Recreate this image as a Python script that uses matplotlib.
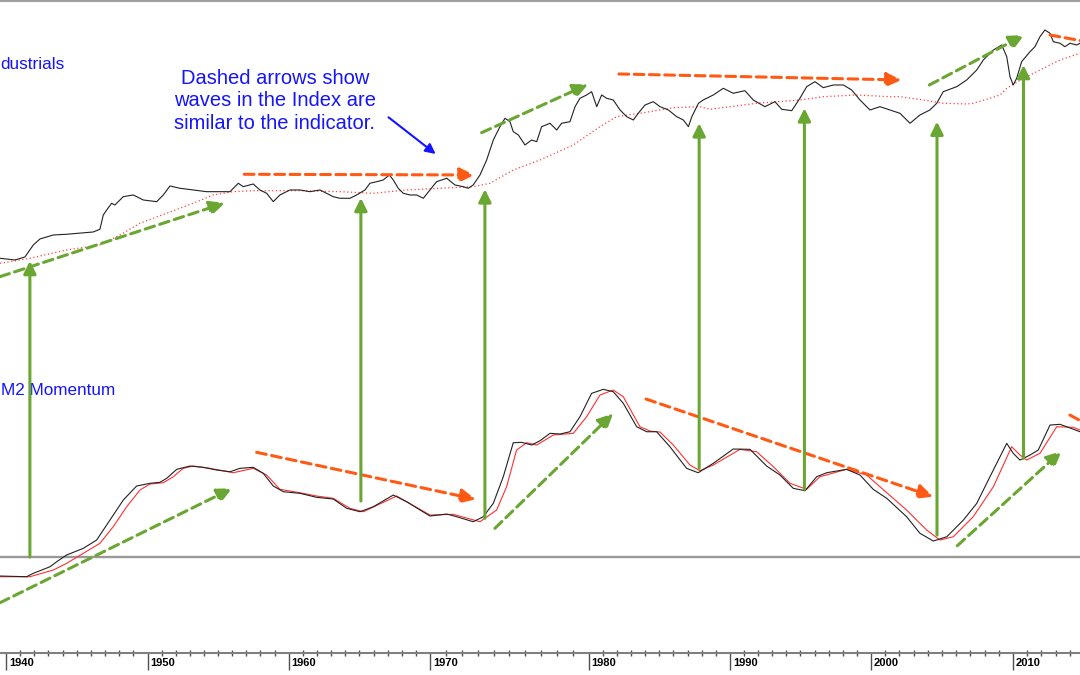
import numpy as np
import matplotlib
matplotlib.use("Agg")
import matplotlib.pyplot as plt
from matplotlib.patches import ConnectionPatch

plt.rcParams['font.family'] = ['Liberation Sans', 'DejaVu Sans']

# ---------------- data ----------------
tick_years = [1940, 1950, 1960, 1970, 1980, 1990, 2000, 2010]
tick_labels = [str(y) for y in tick_years]

dow_years = [1939.58, 1940.64, 1941.34, 1941.93, 1942.40, 1943.34, 1944.28, 1946.16, 1946.63, 1946.87,
             1947.11, 1947.46, 1947.69, 1948.28, 1948.99, 1949.69, 1950.64, 1951.11, 1951.58, 1952.29,
             1953.23, 1954.18, 1955.13, 1955.84, 1956.43, 1956.78, 1957.49, 1957.96, 1958.44, 1958.91,
             1959.38, 1960.09, 1960.80, 1961.50, 1962.21, 1962.68, 1963.15, 1963.62, 1964.33, 1964.80,
             1965.39, 1965.74, 1966.22, 1966.68, 1967.11, 1967.39, 1967.74, 1968.09, 1968.57, 1969.04,
             1969.51, 1969.98, 1970.40, 1971.04, 1971.56, 1972.08, 1972.40, 1972.71, 1973.14, 1973.56,
             1973.98, 1974.40, 1974.72, 1975.03, 1975.24, 1975.56, 1975.98, 1976.40, 1976.72, 1977.03,
             1977.56, 1977.98, 1978.29, 1978.82, 1979.14, 1979.45, 1979.87, 1980.21, 1980.57, 1980.92,
             1981.27, 1981.74, 1982.22, 1982.69, 1983.16, 1983.51, 1983.99, 1984.57, 1985.05, 1985.64,
             1986.23, 1986.70, 1987.06, 1987.30, 1987.77, 1988.11, 1988.82, 1989.53, 1990.23, 1991.06,
             1991.65, 1992.48, 1993.19, 1993.67, 1994.38, 1994.96, 1995.44, 1996.03, 1996.62, 1997.33,
             1998.04, 1998.63, 1999.22, 1999.93, 2000.63, 2001.34, 2002.04, 2002.75, 2003.45, 2004.15,
             2004.63, 2005.09, 2006.04, 2006.74, 2007.45, 2007.91, 2008.62, 2009.21, 2009.56, 2009.79,
             2010.02, 2010.26, 2010.61, 2011.20, 2011.55, 2011.90, 2012.25, 2012.61, 2012.84, 2013.31,
             2013.66, 2014.01, 2014.49, 2014.72]
dow_vals = [41.7, 40, 43, 55, 61, 65, 65.7, 68, 70.7, 85,
            90, 96.7, 95, 103.3, 105, 100, 98.3, 105, 114, 111.7,
            110, 108.3, 108.3, 108.3, 116.7, 113.3, 116, 110, 106.7, 98.3,
            105, 110, 110, 108.3, 110, 106.7, 103.3, 101.7, 101.7, 105,
            110, 116.7, 118.3, 120, 125, 120, 111.7, 106.7, 105, 105,
            101.7, 110, 118.3, 121.7, 115, 113.3, 111.7, 115, 125, 140,
            160, 173.3, 181.7, 178.3, 168.3, 165, 155, 160, 158.3, 173.3,
            176.7, 170, 176.7, 178.3, 193.3, 201.7, 205, 208.3, 193.3, 205,
            201.7, 200, 190, 183.3, 180, 186.7, 195, 198.3, 193.3, 190,
            183.3, 180, 173.3, 183.3, 196.7, 200, 205, 211.7, 206.7, 209.3,
            200, 193.3, 198.3, 190.7, 189.3, 201.7, 213.3, 218.3, 212.3, 215,
            215, 210, 200, 190, 193.3, 190, 186.7, 176.7, 185, 190,
            196.7, 208.3, 213.3, 220, 230, 240, 250, 255, 243.3, 223.3,
            215, 221.7, 238.3, 248.3, 253.3, 263.3, 270, 266.7, 258.3, 256.7,
            253.3, 256.7, 255, 256.7]

ma_years = [1939.58, 1941.69, 1944.28, 1946.63, 1948.05, 1949.46, 1951.33, 1953.23, 1954.64, 1956.07,
            1957.49, 1960.80, 1963.62, 1965.97, 1968.33, 1970.61, 1972.71, 1973.77, 1975.24, 1976.93,
            1979.03, 1980.80, 1981.98, 1983.63, 1985.99, 1987.87, 1988.58, 1991.89, 1994.96, 1996.62,
            1998.98, 2001.34, 2002.04, 2003.69, 2004.39, 2005.09, 2006.74, 2007.20, 2008.38, 2009.09,
            2009.56, 2010.73, 2010.97, 2012.61, 2013.31, 2014.72]
ma_vals = [36.7, 41.7, 50, 55, 65, 76.7, 86.7, 96.7, 105, 108.3,
           109.3, 109.3, 108.3, 106.7, 110, 111.7, 113.3, 116.7, 130, 140,
           155, 173.3, 183.3, 186.7, 192.3, 193.3, 190.7, 196.7, 200, 203.3,
           205, 203.3, 203.3, 200, 198.3, 196.7, 196, 196.7, 201.7, 205,
           211.7, 221.7, 223.3, 235, 240, 246.7]

m2_years = [1939.58, 1941.46, 1941.93, 1943.11, 1943.58, 1944.28, 1945.46, 1946.40, 1947.34, 1948.28,
            1949.22, 1950.16, 1950.87, 1951.35, 1952.06, 1953.00, 1953.94, 1954.89, 1955.84, 1956.55,
            1957.49, 1958.20, 1958.91, 1959.62, 1960.80, 1961.98, 1963.15, 1964.10, 1965.04, 1965.98,
            1967.39, 1968.33, 1969.98, 1971.04, 1971.67, 1972.71, 1973.35, 1973.98, 1974.61, 1975.24,
            1975.77, 1976.40, 1976.93, 1977.56, 1978.19, 1978.82, 1979.45, 1980.21, 1981.04, 1981.74,
            1982.45, 1983.40, 1984.10, 1984.81, 1985.75, 1986.93, 1987.75, 1988.82, 1990.23, 1991.42,
            1992.60, 1993.55, 1994.49, 1995.32, 1996.15, 1996.86, 1998.27, 1999.22, 2000.16, 2001.11,
            2002.51, 2003.45, 2004.39, 2005.34, 2006.51, 2007.45, 2008.38, 2009.56, 2010.02, 2010.49,
            2011.20, 2011.78, 2012.61, 2013.31, 2013.78, 2014.72]
m2_vals = [-1.9, -1.97, -1.63, -0.97, -0.47, 0.2, 0.87, 1.7, 3.7, 5.7,
           7.1, 7.37, 7.47, 7.87, 8.77, 9.1, 8.97, 8.7, 8.53, 8.87,
           8.97, 8.37, 7.1, 6.53, 6.37, 5.97, 5.8, 4.87, 4.53, 5.03,
           6.2, 5.53, 4.1, 4.3, 4.03, 3.53, 4.03, 5.37, 8.03, 11.43,
           11.47, 11.2, 11.63, 12.37, 12.3, 12.53, 14.03, 16.37, 16.77, 16.53,
           15.37, 13.03, 12.53, 12.53, 11.03, 8.87, 8.43, 9.37, 10.8, 10.77,
           9.1, 8.2, 6.87, 6.63, 8.03, 8.43, 8.77, 8.2, 6.77, 5.87,
           4.03, 2.37, 1.6, 2.03, 3.7, 5.37, 8.03, 11.37, 10.37, 9.7,
           10.2, 10.7, 13.2, 13.27, 13.03, 12.53]

sig_years = [1939.58, 1941.69, 1943.34, 1944.28, 1945.46, 1946.63, 1947.57, 1948.52, 1949.46, 1950.16,
             1951.11, 1951.82, 1952.52, 1953.23, 1954.42, 1956.07, 1957.49, 1958.44, 1959.38, 1960.80,
             1961.98, 1963.15, 1964.33, 1965.27, 1967.63, 1969.98, 1971.45, 1973.14, 1974.19, 1974.82,
             1975.45, 1976.08, 1976.72, 1977.77, 1979.03, 1979.87, 1980.80, 1981.74, 1982.45, 1983.63,
             1984.34, 1985.05, 1985.99, 1987.17, 1987.87, 1988.82, 1990.71, 1991.89, 1993.08, 1994.26,
             1995.44, 1996.38, 1998.27, 1999.69, 2000.63, 2002.51, 2003.92, 2004.86, 2005.80, 2007.20,
             2008.62, 2009.91, 2010.49, 2010.96, 2011.90, 2013.08, 2014.25, 2014.72]
sig_vals = [-1.97, -1.97, -1.3, -0.63, 0.37, 1.37, 3.03, 5.03, 6.7, 7.3,
            7.43, 8.03, 8.87, 9.1, 8.87, 8.43, 8.87, 8.2, 6.77, 6.43,
            6.1, 5.87, 4.87, 4.53, 6.1, 4.2, 4.27, 3.53, 4.7, 7.03,
            10.7, 11.43, 11.2, 12.2, 12.37, 14.03, 16.2, 16.7, 16.03, 13.03,
            12.6, 12.5, 11.2, 9.2, 8.63, 9.2, 10.77, 10.53, 9.03, 7.37,
            6.77, 8.03, 8.77, 8.2, 7.03, 4.7, 2.7, 1.7, 2.03, 4.03,
            7.03, 11.03, 10.2, 9.7, 10.37, 13.03, 12.97, 12.7]

# annotation arrows: (start, end) in (year, value)
green_dash_top = [((1939.58, 23.3), (1955.48, 97.0)),
                  ((1973.24, 167.3), (1979.97, 215.7)),
                  ((2004.11, 215.0), (2010.80, 265.0))]
green_dash_bot = [((1939.58, -4.57), (1956.00, 6.87)),
                  ((1974.08, 2.87), (1981.74, 14.37)),
                  ((2006.08, 1.13), (2013.43, 10.6))]
orange_dash_top = [((1956.85, 125.7), (1972.82, 125.0)),
                   ((1982.14, 226.0), (2002.16, 220.0)),
                   ((2012.61, 265.0), (2016.40, 255.0))]
orange_dash_bot = [((1957.73, 10.47), (1972.89, 5.77)),
                   ((1984.06, 15.8), (2004.39, 6.03)),
                   ((2014.01, 14.2), (2016.60, 12.2))]
signal_years = [1941.69, 1965.10, 1973.45, 1987.82, 1995.28, 2004.65, 2010.74]
signal_bot = [0.0, 5.6, 3.87, 8.87, 6.77, 2.2, 9.87]
signal_top = [39, 102, 110.7, 176.7, 191.7, 178.3, 235]

note_text = "Dashed arrows show\nwaves in the Index are\nsimilar to the indicator."

# ---------------- styling ----------------
GREEN = '#6AA632'
ORANGE = '#FF5A14'
BLUE = '#1414FF'
XMIN, XMAX = 1939.58, 2014.72

# time-axis scale of the source chart (decade spacing is not uniform)
scale_years = [1930] + tick_years + [2020]
scale_pos = [-135.7, 6, 147.7, 288.7, 430.3, 588.7, 730, 871, 1013, 1155]


def fwd(x):
    return np.interp(x, scale_years, scale_pos)


def inv(p):
    return np.interp(p, scale_pos, scale_years)


fig = plt.figure(figsize=(10.8, 6.75), dpi=100)
ax_top = fig.add_axes([0, 0.5556, 1, 0.4422])
ax_bot = fig.add_axes([0, 0.0333, 1, 0.5222])
for ax in (ax_top, ax_bot):
    ax.set_xscale('function', functions=(fwd, inv))
    ax.set_xlim(XMIN, XMAX)
    ax.patch.set_alpha(0)
    for s in ax.spines.values():
        s.set_visible(False)
    ax.set_yticks([])

ax_top.set_ylim(0, 298.5)
ax_bot.set_ylim(-9.55, 25.7)

ax_top.spines['top'].set_visible(True)
ax_top.spines['top'].set_color('#a0a0a0')
ax_top.spines['top'].set_linewidth(1.5)
ax_top.set_xticks([])
ax_top.set_xticks([], minor=True)

ax_bot.spines['bottom'].set_visible(True)
ax_bot.spines['bottom'].set_color('#808080')
ax_bot.spines['bottom'].set_linewidth(1.5)
ax_bot.set_xticks(tick_years)
ax_bot.set_xticklabels([])
ax_bot.set_xticks(np.arange(1940, 2015), minor=True)
ax_bot.tick_params(axis='x', which='major', length=12, width=1, color='#505050', direction='out')
ax_bot.tick_params(axis='x', which='minor', length=4, width=1, color='#505050', direction='inout')
for yr, lab in zip(tick_years, tick_labels):
    ax_bot.annotate(lab, xy=(yr, 0), xycoords=('data', 'axes fraction'),
                    xytext=(2.2, -3.6), textcoords='offset points',
                    ha='left', va='top', fontsize=8, fontweight='bold', color='black',
                    annotation_clip=False)

# lines
ax_top.plot(ma_years, ma_vals, color='#ff4040', lw=0.9, ls=(0, (1, 2)), zorder=2)
ax_top.plot(dow_years, dow_vals, color='#222222', lw=0.8, zorder=3)
ax_bot.axhline(0, color='#999999', lw=1.7, zorder=1)
ax_bot.plot(sig_years, sig_vals, color='#ff3030', lw=0.8, zorder=2)
ax_bot.plot(m2_years, m2_vals, color='#222222', lw=0.8, zorder=3)

# labels (the reference shows the series title cropped at the left edge)
ax_top.text(XMIN, 235, "dustrials", ha='left', va='center',
            fontsize=12.3, color=BLUE)
ax_bot.text(1939.66, 16.7, "M2 Momentum", ha='left', va='center', fontsize=12.3, color=BLUE)
ax_top.text(1959.03, 199, note_text, ha='center', va='center', multialignment='center',
            fontsize=14.5, color=BLUE, linespacing=1.24)
ax_top.annotate('', xy=(1970.34, 146), xytext=(1967.05, 182.7),
                arrowprops=dict(arrowstyle='-|>,head_length=0.6,head_width=0.3', color=BLUE,
                                lw=1.5, mutation_scale=10, shrinkA=0, shrinkB=0))


def dashed_arrow(ax, start, end, color):
    ax.annotate('', xy=end, xytext=start, annotation_clip=False,
                arrowprops=dict(arrowstyle='-|>,head_length=0.6,head_width=0.28',
                                color=color, lw=2.2, ls=(0, (3.2, 1.8)),
                                mutation_scale=15, shrinkA=0, shrinkB=0),
                zorder=5)


for s, e in green_dash_top:
    dashed_arrow(ax_top, s, e, GREEN)
for s, e in green_dash_bot:
    dashed_arrow(ax_bot, s, e, GREEN)
for s, e in orange_dash_top:
    dashed_arrow(ax_top, s, e, ORANGE)
for s, e in orange_dash_bot:
    dashed_arrow(ax_bot, s, e, ORANGE)

for yr, b, t in zip(signal_years, signal_bot, signal_top):
    con = ConnectionPatch(xyA=(yr, b), coordsA=ax_bot.transData,
                          xyB=(yr, t), coordsB=ax_top.transData,
                          arrowstyle='-|>,head_length=0.5,head_width=0.25',
                          mutation_scale=15, color=GREEN, lw=2.2, zorder=6)
    fig.add_artist(con)

fig.savefig('out.png', dpi=100)
